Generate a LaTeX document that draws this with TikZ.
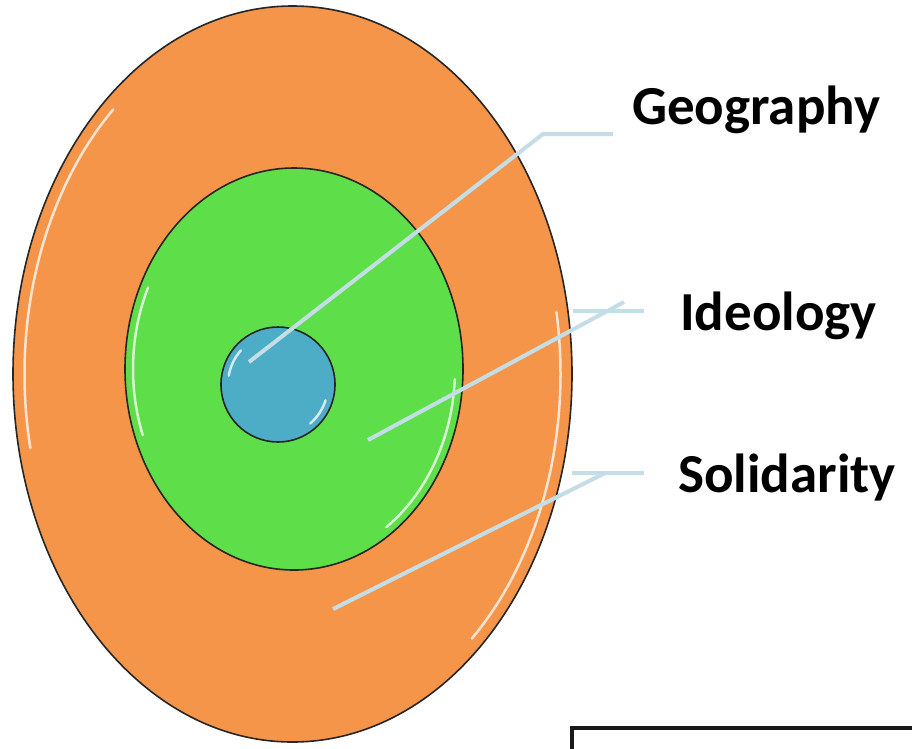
\documentclass[tikz,border=0pt]{standalone}
\usepackage{fontspec}
\setmainfont{Carlito}
\usetikzlibrary{shapes.geometric}
\definecolor{ringorange}{HTML}{F5954A}
\definecolor{ringgreen}{HTML}{5EDE48}
\definecolor{coreblue}{HTML}{4DACC6}
\definecolor{leader}{HTML}{C3DEE7}
\tikzset{
  ring/.style={ellipse, draw=black!85, line width=1.6pt, inner sep=0pt},
  gloss/.style={white, line width=2.5pt, line cap=round, opacity=0.75},
  leaderline/.style={draw=leader, line width=4pt},
  lbl/.style={font=\bfseries\fontsize{55}{62}\selectfont, anchor=base west, inner sep=0pt}
}
\begin{document}
\begin{tikzpicture}[x=1pt,y=-1pt]
\useasboundingbox (0,0) rectangle (912,748);
% rings
\node[ring, fill=ringorange, minimum width=559pt, minimum height=736pt] (outer) at (292.5,374) {};
\draw[gloss] (292.5,374) ++(228:268 and 356) arc (228:168:268 and 356);
\draw[gloss] (292.5,374) ++(48:268 and 356) arc (48:-10:268 and 356);
\node[ring, fill=ringgreen, minimum width=338pt, minimum height=402pt] (mid) at (294,369) {};
\draw[gloss] (294,369) ++(205:161 and 193) arc (205:160:161 and 193);
\draw[gloss] (294,369) ++(55:161 and 193) arc (55:3:161 and 193);
\node[ring, fill=coreblue, minimum width=114pt, minimum height=115pt] (core) at (278,384.5) {};
\draw[gloss] (278,384.5) ++(222:50 and 51) arc (222:190:50 and 51);
\draw[gloss] (278,384.5) ++(50:50 and 51) arc (50:18:50 and 51);
% labels
\node[lbl] (geo) at (632,124) {Geography};
\node[lbl] (ideo) at (680,330) {Ideology};
\node[lbl] (soli) at (678,492) {Solidarity};
% leader lines
\coordinate (g1) at (249,362);
\coordinate (g2) at (543,134);
\coordinate (g3) at (613,134);
\coordinate (i1) at (368,440);
\coordinate (i2) at (624,302);
\coordinate (i3) at (573,311);
\coordinate (i4) at (644,311);
\coordinate (s1) at (333,609);
\coordinate (s2) at (605,473);
\coordinate (s3) at (572,473);
\coordinate (s4) at (644,473);
\draw[leaderline] (g1) -- (g2) -- (g3);
\draw[leaderline] (i1) -- (i2);
\draw[leaderline] (i3) -- (i4);
\draw[leaderline] (s1) -- (s2);
\draw[leaderline] (s3) -- (s4);
% partial frame
\coordinate (f1) at (572,752);
\coordinate (f2) at (572,728);
\coordinate (f3) at (916,728);
\draw[line width=4pt, black!90] (f1) -- (f2) -- (f3);
\end{tikzpicture}
\end{document}
